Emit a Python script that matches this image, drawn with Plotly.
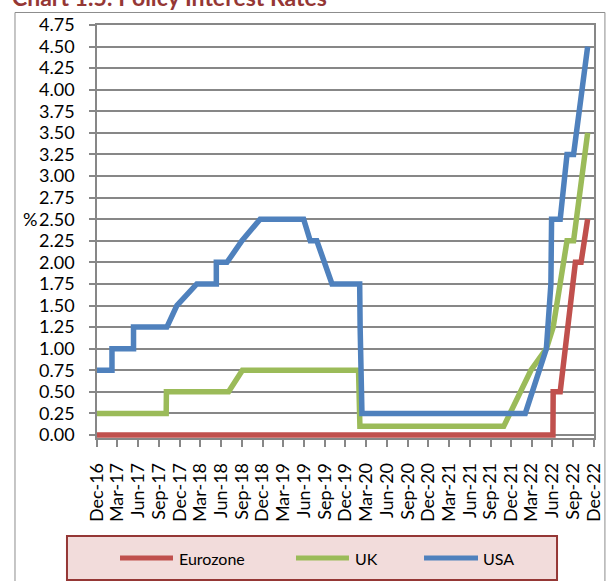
import plotly.graph_objects as go

# Policy rates (%)
ez_dates = ['2016-12-01', '2022-06-03', '2022-06-04', '2022-07-05', '2022-09-10',
            '2022-10-05', '2022-11-03']
ez_rates = [0.00, 0.00, 0.50, 0.50, 2.00, 2.00, 2.50]

uk_dates = ['2016-12-01', '2017-10-02', '2017-10-03', '2018-07-04', '2018-09-03',
            '2020-01-28', '2020-02-03', '2021-10-29', '2022-02-26', '2022-05-05',
            '2022-06-04', '2022-08-04', '2022-09-02', '2022-11-03']
uk_rates = [0.25, 0.25, 0.50, 0.50, 0.75, 0.75, 0.10, 0.10, 0.75, 1.00,
            1.25, 2.25, 2.25, 3.50]

usa_dates = ['2016-12-01', '2017-02-05', '2017-02-05', '2017-05-11', '2017-05-11',
             '2017-10-05', '2017-11-18', '2018-02-14', '2018-05-11', '2018-05-11',
             '2018-06-27', '2018-09-01', '2018-11-20', '2019-05-31', '2019-06-29',
             '2019-07-28', '2019-10-03', '2020-02-02', '2020-02-04', '2020-02-12',
             '2022-02-01', '2022-05-05', '2022-05-25', '2022-05-28', '2022-07-05',
             '2022-08-04', '2022-09-02', '2022-10-06', '2022-11-03']
usa_rates = [0.75, 0.75, 1.00, 1.00, 1.25, 1.25, 1.50, 1.75, 1.75, 2.00,
             2.00, 2.25, 2.50, 2.50, 2.25, 2.25, 1.75, 1.75, 1.25, 0.25,
             0.25, 1.00, 1.75, 2.50, 2.50, 3.25, 3.25, 4.00, 4.50]

series = [
    ('Eurozone', ez_dates, ez_rates, '#C0504D'),
    ('UK', uk_dates, uk_rates, '#9BBB59'),
    ('USA', usa_dates, usa_rates, '#4F81BD'),
]

FONT = 'Lato'
GRID = '#878787'

fig = go.Figure()
for name, xs, ys, color in series:
    fig.add_trace(go.Scatter(
        x=xs, y=ys, mode='lines', name=name,
        line=dict(color=color, width=5.5),
        showlegend=False,
    ))

# Outer chart frame
fig.add_shape(type='rect', xref='paper', yref='paper',
              x0=-0.165, x1=1.022, y0=-0.40, y1=1.0303,
              line=dict(color='#8C8C8C', width=1), fillcolor='rgba(0,0,0,0)',
              layer='below')

# Legend box (drawn by hand to match the Excel layout)
fig.add_shape(type='rect', xref='paper', yref='paper',
              x0=-0.0604, x1=0.9256, y0=-0.3438, y1=-0.2373,
              line=dict(color='#953735', width=2), fillcolor='#F2DCDB')
legend_pos = [(0.0463, 0.1529, 0.161), (0.4004, 0.5070, 0.5151), (0.658, 0.7666, 0.7726)]
for (name, _, _, color), (lx0, lx1, tx) in zip(series, legend_pos):
    fig.add_shape(type='line', xref='paper', yref='paper',
                  x0=lx0, x1=lx1, y0=-0.2906, y1=-0.2906,
                  line=dict(color=color, width=5))
    fig.add_annotation(text=name, xref='paper', yref='paper', x=tx, y=-0.2906,
                       xanchor='left', yanchor='middle', showarrow=False,
                       font=dict(family=FONT, size=16, color='#000000'))

# Title (cut off at the top, as in the source)
fig.add_annotation(text='<b>Chart 1.5: Policy Interest Rates</b>',
                   xref='paper', yref='paper', x=-0.175, y=1.029,
                   xanchor='left', yanchor='bottom', showarrow=False,
                   font=dict(family=FONT, size=23, color='#953735'))

# "%" unit label next to the 2.50 tick
fig.add_annotation(text='%', xref='paper', yref='y', x=-0.1157, y=2.5,
                   xanchor='right', yanchor='middle', showarrow=False,
                   font=dict(family=FONT, size=18, color='#000000'))

fig.update_layout(
    width=606, height=581,
    paper_bgcolor='white', plot_bgcolor='white',
    margin=dict(l=97, r=12, t=25, b=143),
    font=dict(family=FONT, size=18, color='#000000'),
    xaxis=dict(
        type='date',
        range=['2016-12-01', '2022-12-01'],
        tick0='2016-12-01', dtick='M3', tickformat='%b-%y',
        tickangle=-90,
        ticks='outside', ticklen=7, tickwidth=1.5, tickcolor=GRID,
        ticklabelstandoff=9,
        showgrid=False, zeroline=False, automargin=False,
        showline=True, linecolor=GRID, linewidth=1.5, mirror=True,
        tickfont=dict(family=FONT, size=18, color='#000000'),
    ),
    yaxis=dict(
        range=[-0.035, 4.75],
        tick0=0, dtick=0.25, tickformat='.2f',
        ticks='outside', ticklen=6, tickwidth=1.5, tickcolor=GRID,
        ticklabelstandoff=11,
        showgrid=True, gridcolor=GRID, gridwidth=1.5,
        zeroline=False, automargin=False,
        showline=True, linecolor=GRID, linewidth=1.5, mirror=True,
        tickfont=dict(family=FONT, size=18, color='#000000'),
    ),
)

# drop the browser's default 8px body margin so the figure sits at the window's corner
fig.write_html('out.html', config={'displayModeBar': False},
               post_script="document.body.style.margin='0';document.body.style.overflow='hidden';")
